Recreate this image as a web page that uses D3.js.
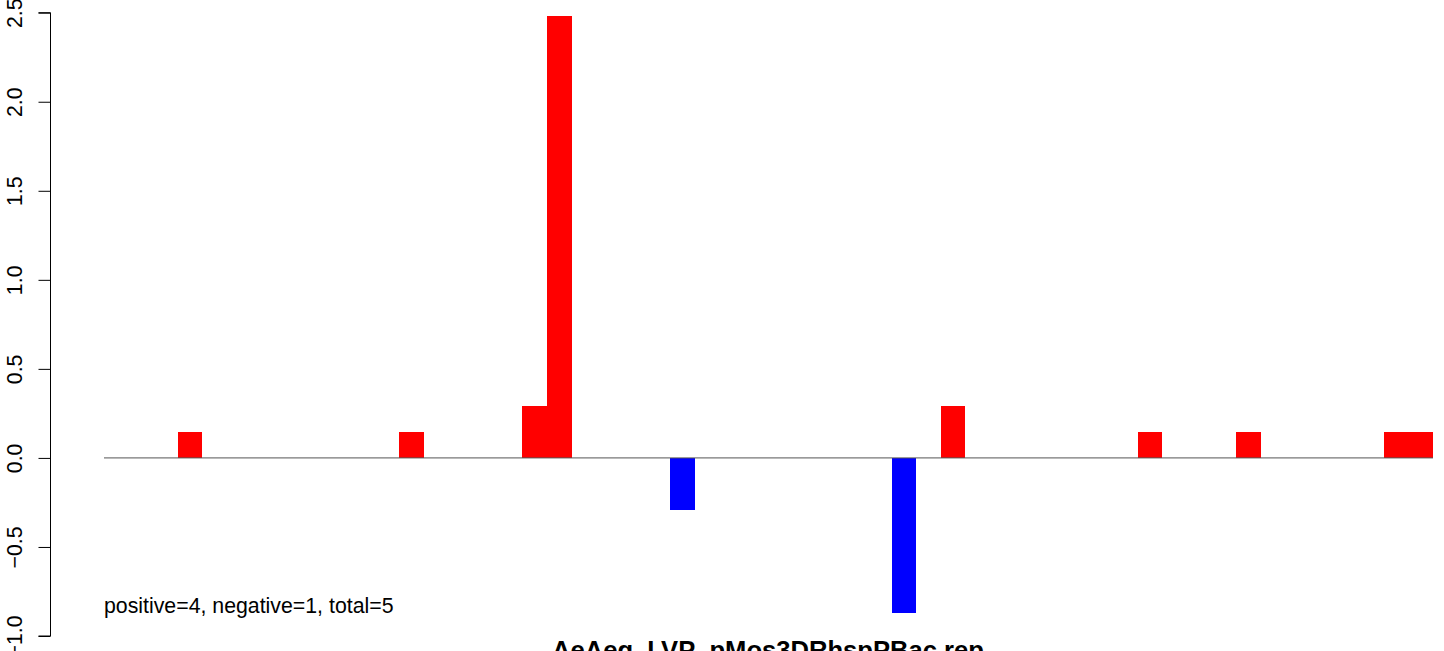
<!DOCTYPE html>
<html>
<head>
<meta charset="utf-8">
<script src="https://cdn.jsdelivr.net/npm/d3@7"></script>
<style>
html,body{margin:0;padding:0;background:#fff;}
svg{display:block;}
text{font-family:"Liberation Sans",Arial,Helvetica,sans-serif;}
</style>
</head>
<body>
<svg id="chart" width="1444" height="651"></svg>
<script>
// ---- data ----
const nBars = 54;
const barIndex = [3, 12, 17, 18, 23, 32, 34, 42, 46, 52, 53];
const barValue = [0.148, 0.148, 0.29, 2.484, -0.29, -0.873, 0.29, 0.148, 0.148, 0.148, 0.148];
const yTicks = [-1.0, -0.5, 0.0, 0.5, 1.0, 1.5, 2.0, 2.5];
const titleText = "AeAeg_LVP_pMos3DRhspPBac.rep";
const noteText = "positive=4, negative=1, total=5";

const values = d3.range(nBars).map(() => 0);
barIndex.forEach((idx, k) => { values[idx] = barValue[k]; });

const svg = d3.select("#chart");
const x = d3.scaleBand().domain(d3.range(nBars)).range([104, 1433]).padding(0);
const y = d3.scaleLinear().domain([-1, 2.5]).range([636, 12.7]);

// bars
svg.append("g").selectAll("rect")
  .data(values.map((v, i) => ({i, v})).filter(d => d.v !== 0))
  .join("rect")
  .attr("x", d => x(d.i))
  .attr("width", x.bandwidth())
  .attr("y", d => y(Math.max(0, d.v)))
  .attr("height", d => Math.abs(y(d.v) - y(0)))
  .attr("fill", d => d.v > 0 ? "#ff0000" : "#0000ff")
  .attr("shape-rendering", "crispEdges");

// baseline
svg.append("line")
  .attr("x1", 104).attr("x2", 1433)
  .attr("y1", y(0)).attr("y2", y(0))
  .attr("stroke", "#555").attr("stroke-width", 1);

// y axis
const axis = d3.axisLeft(y).tickValues(yTicks).tickSize(12).tickFormat(d3.format(".1f"));
const ag = svg.append("g").attr("transform", "translate(50.5,0)").call(axis);
ag.select(".domain").attr("stroke", "#000").attr("d", `M-12,${y(2.5)}H0V${y(-1)}H-12`).attr("stroke-width", 1);
ag.selectAll(".tick line").attr("stroke", "#000");
ag.selectAll(".tick text")
  .attr("font-size", 21.3)
  .attr("fill", "#000")
  .attr("x", null).attr("dy", null)
  .attr("text-anchor", "middle")
  .attr("transform", "translate(-28.5,0) rotate(-90)")
  .attr("y", 0)
  .text(d => d < 0 ? "\u2212" + d3.format(".1f")(-d) : d3.format(".1f")(d));

// note
svg.append("text")
  .attr("x", 104).attr("y", 613)
  .attr("font-size", 21.3)
  .attr("fill", "#000")
  .text(noteText);

// title
svg.append("text")
  .attr("x", 768).attr("y", 659)
  .attr("text-anchor", "middle")
  .attr("font-size", 25.6)
  .attr("font-weight", "bold")
  .attr("fill", "#000")
  .text(titleText);
</script>
</body>
</html>
